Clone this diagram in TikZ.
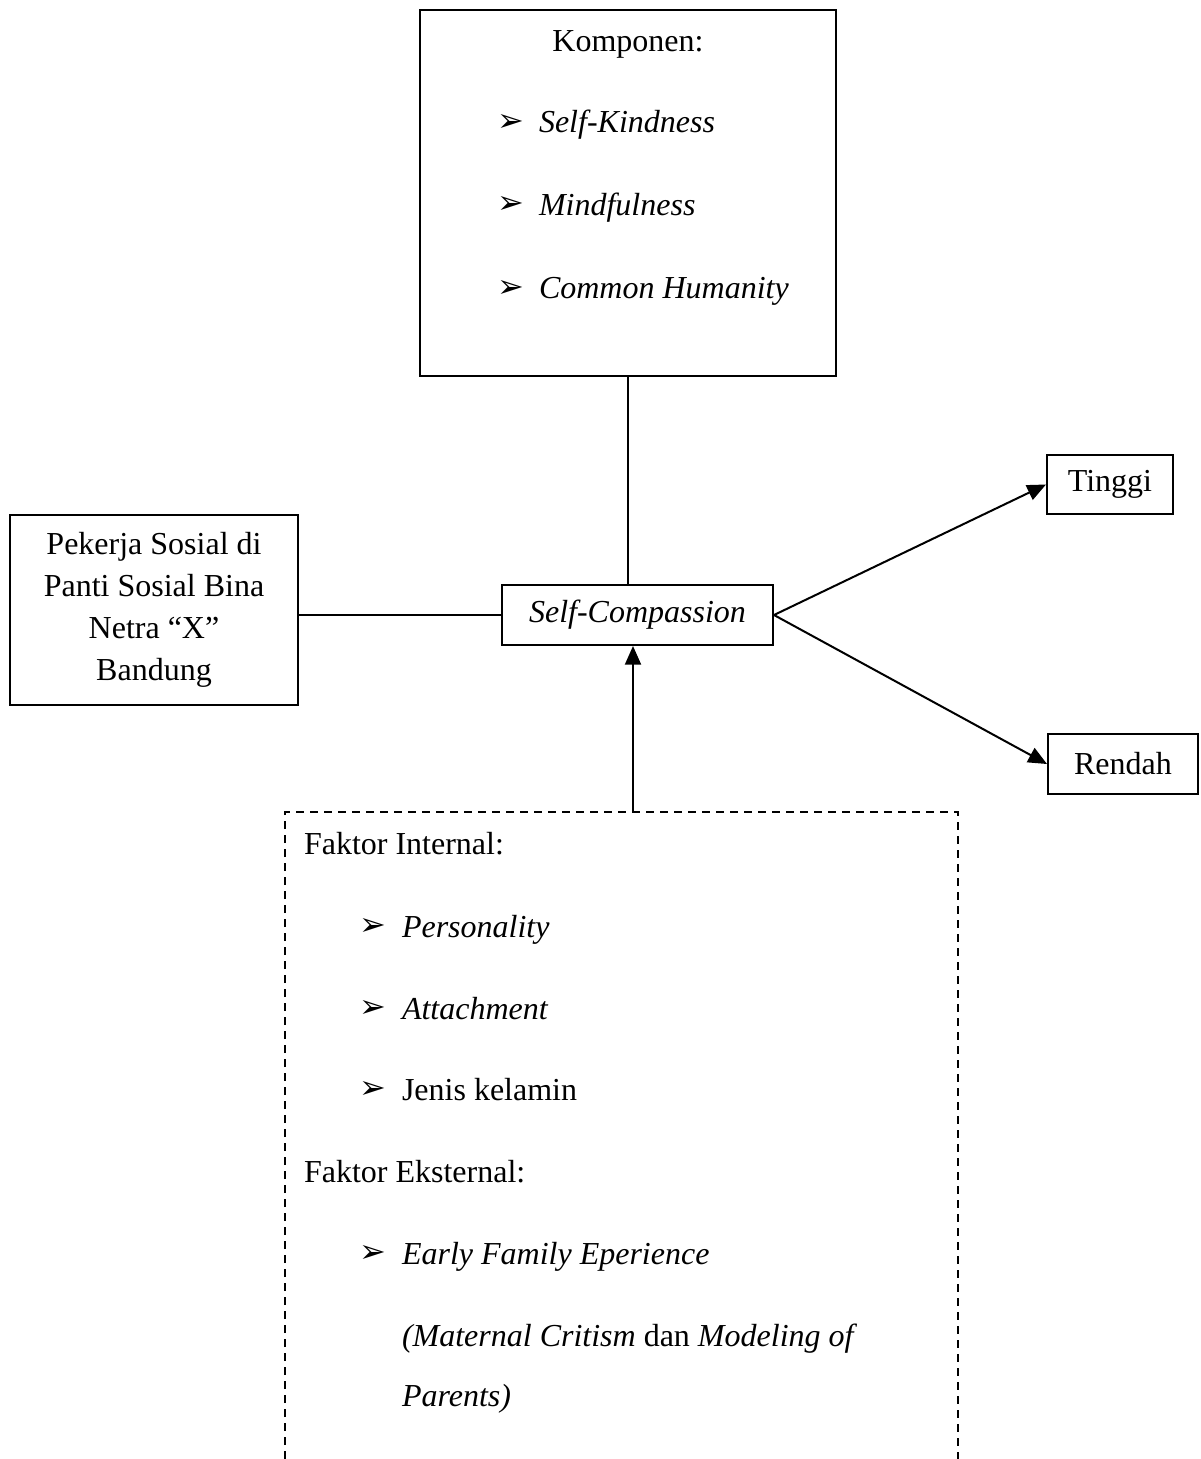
\documentclass[tikz,border=0pt]{standalone}
\usepackage{fontspec}
\setmainfont{Liberation Serif}
\newfontfamily\bulletfont{DejaVu Sans}
\usetikzlibrary{arrows.meta}

\tikzset{every picture/.style={line width=1.5pt}}
\newcommand{\itembullet}{{\bulletfont\fontsize{24}{24}\selectfont ➢}}

\begin{document}
\begin{tikzpicture}[x=0.75pt,y=0.75pt,yscale=-1,xscale=1,font=\fontsize{24}{31.5}\selectfont]
\useasboundingbox (0,0) rectangle (1200,1459);

%Shape: Rectangle [id:komp] 
\node (komp) at (628,193) [draw, minimum width=312pt, minimum height=274.5pt, inner sep=0pt] {};
%Shape: Rectangle [id:sc] 
\node (sc) at (637.5,615) [draw, minimum width=203.25pt, minimum height=45pt, inner sep=0pt] {\textit{Self-Compassion}};
%Shape: Rectangle [id:pekerja] 
\node (pekerja) at (154,610) [draw, minimum width=216pt, minimum height=142.5pt, inner sep=0pt, align=center] {Pekerja Sosial di\\Panti Sosial Bina\\Netra “X”\\Bandung};
%Shape: Rectangle [id:tinggi] 
\node (tinggi) at (1110,484.5) [draw, minimum width=94.5pt, minimum height=44.25pt, inner sep=0pt] {Tinggi};
%Shape: Rectangle [id:rendah] 
\node (rendah) at (1123,764) [draw, minimum width=112.5pt, minimum height=45pt, inner sep=0pt] {Rendah};

%Shape: Open dashed box [id:faktor] 
\coordinate (faktorbl) at (285,1459);
\coordinate (faktortl) at (285,812);
\coordinate (faktortr) at (958,812);
\coordinate (faktorbr) at (958,1459);
\coordinate (faktortop) at (633,812);
\draw [line width=1.2pt, dash pattern={on 6pt off 4.5pt}] (faktorbl) -- (faktortl) -- (faktortr) -- (faktorbr);

%Straight Lines [id:komp-sc] 
\draw (komp.south) -- (komp.south |- sc.north);
%Straight Lines [id:pekerja-sc] 
\draw (pekerja.east |- sc.west) -- (sc.west);
%Straight Lines [id:sc-tinggi] 
\draw [-{Triangle[length=14pt,width=12pt]}] (sc.east) -- (tinggi.west);
%Straight Lines [id:sc-rendah] 
\draw [-{Triangle[length=14pt,width=12pt]}] (sc.east) -- (rendah.west);
%Straight Lines [id:faktor-sc] 
\draw [-{Triangle[length=14pt,width=12pt]}] (faktortop) -- (faktortop |- sc.south);

% Text Node
\node (kompttl) at (628,52) [anchor=base, inner sep=0.75pt] {Komponen:};
% Text Node
\node (bkind) at (495,132) [anchor=base west, inner sep=0.75pt] {\itembullet};
\node (kind) at (537,133) [anchor=base west, inner sep=0.75pt] {\textit{Self-Kindness}};
% Text Node
\node (bmind) at (495,214) [anchor=base west, inner sep=0.75pt] {\itembullet};
\node (mind) at (537,215) [anchor=base west, inner sep=0.75pt] {\textit{Mindfulness}};
% Text Node
\node (bcomm) at (495,297) [anchor=base west, inner sep=0.75pt] {\itembullet};
\node (comm) at (537,298) [anchor=base west, inner sep=0.75pt] {\textit{Common Humanity}};

% Text Node
\node (intttl) at (302,854) [anchor=base west, inner sep=0.75pt] {Faktor Internal:};
% Text Node
\node (bpers) at (357,935) [anchor=base west, inner sep=0.75pt] {\itembullet};
\node (pers) at (400,937) [anchor=base west, inner sep=0.75pt] {\textit{Personality}};
% Text Node
\node (batt) at (357,1017) [anchor=base west, inner sep=0.75pt] {\itembullet};
\node (att) at (400,1019) [anchor=base west, inner sep=0.75pt] {\textit{Attachment}};
% Text Node
\node (bjen) at (357,1098) [anchor=base west, inner sep=0.75pt] {\itembullet};
\node (jen) at (400,1100) [anchor=base west, inner sep=0.75pt] {Jenis kelamin};
% Text Node
\node (extttl) at (302,1182) [anchor=base west, inner sep=0.75pt] {Faktor Eksternal:};
% Text Node
\node (bearly) at (357,1262) [anchor=base west, inner sep=0.75pt] {\itembullet};
\node (early) at (400,1264) [anchor=base west, inner sep=0.75pt] {\textit{Early Family Eperience}};
% Text Node
\node (mat) at (400,1346) [anchor=base west, inner sep=0.75pt] {\textit{(Maternal Critism} dan \textit{Modeling of}};
% Text Node
\node (par) at (400,1406) [anchor=base west, inner sep=0.75pt] {\textit{Parents)}};

\end{tikzpicture}
\end{document}
